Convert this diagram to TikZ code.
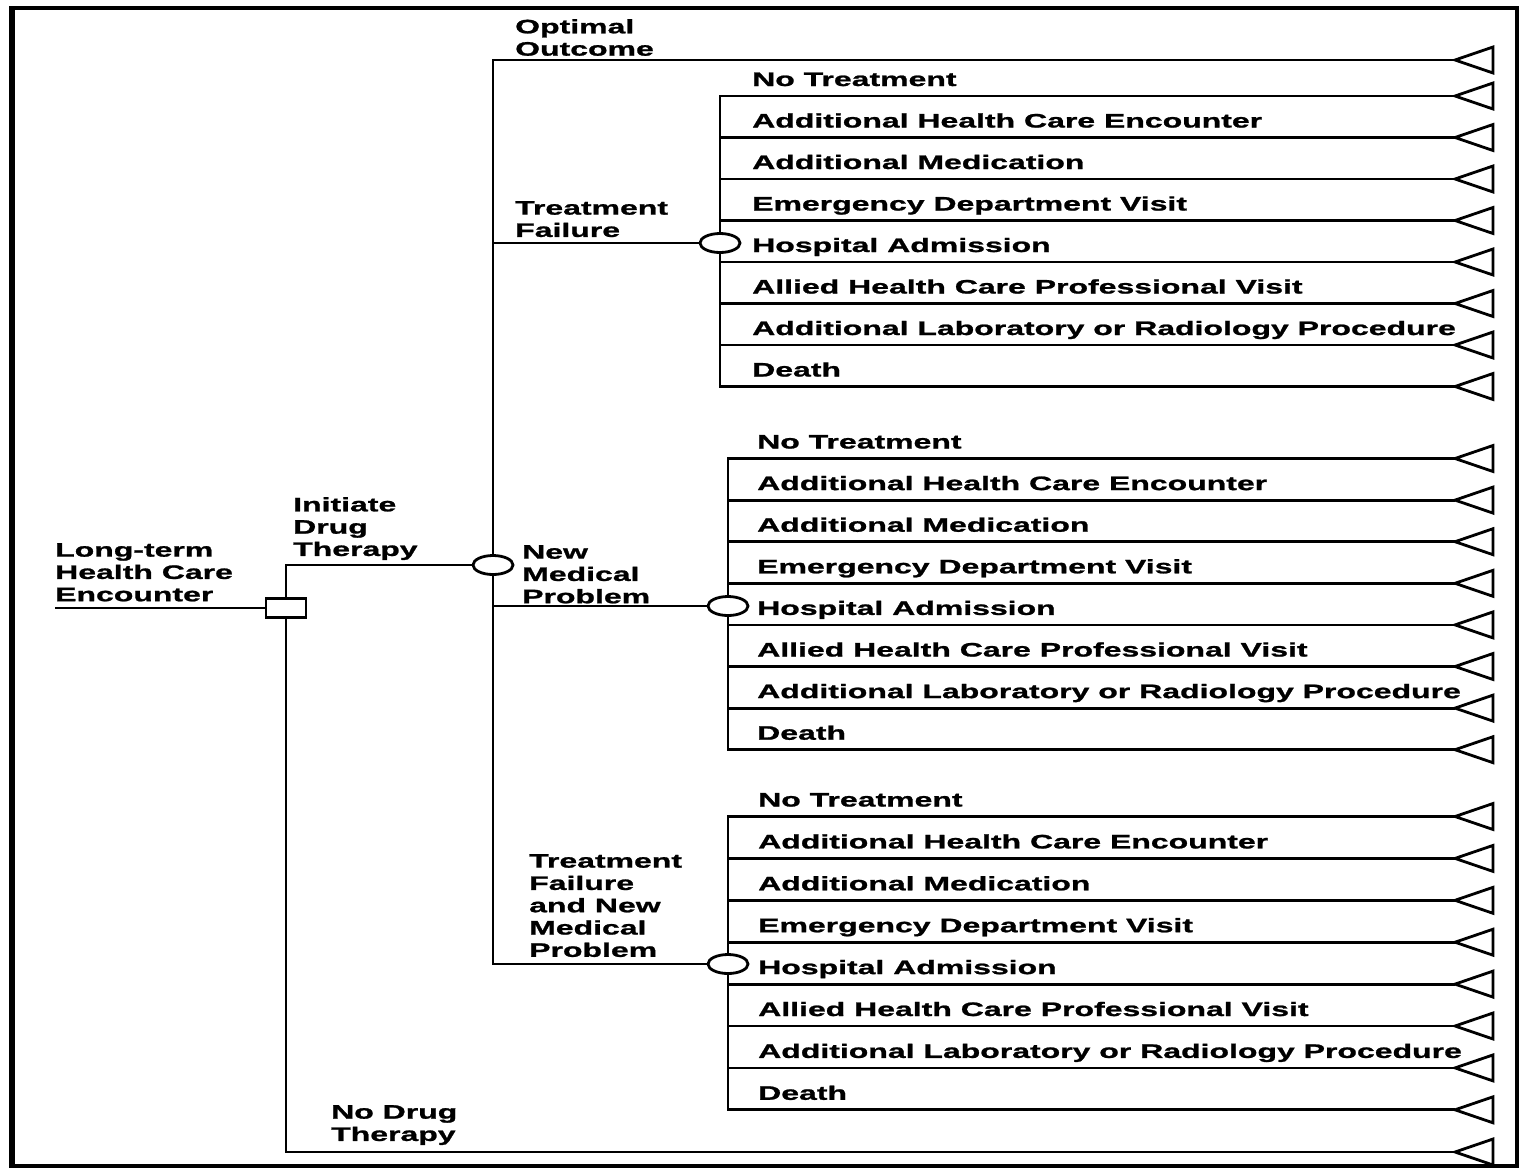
\documentclass[tikz,border=0pt]{standalone}
\usepackage{fontspec}
\setmainfont{Liberation Sans}[FakeStretch=1.64, BoldFeatures={FakeBold=1.2}]
\usetikzlibrary{shapes.geometric}

\begin{document}
\begin{tikzpicture}[x=1pt,y=-1pt,
  wire/.style={line width=2.8pt},
  decision/.style={draw, line width=2.8pt, fill=white, rectangle,
    minimum width=40pt, minimum height=19pt, inner sep=0pt},
  chance/.style={draw, line width=2.8pt, fill=white, ellipse,
    minimum width=40pt, minimum height=19pt, inner sep=0pt},
  lbl/.style={font=\bfseries\fontsize{19.5}{22}\selectfont, inner sep=0pt, anchor=base west},
  mlbl/.style={font=\bfseries\fontsize{19.5}{22.3}\selectfont, inner sep=0pt,
    anchor=north west, align=left},
  terminal/.style={line width=2.8pt, line join=miter}
]
\useasboundingbox (0,0) rectangle (1522,1173);
\fill[white] (0,0) rectangle (1522,1173);

% outer frame
\draw[line width=4.5pt] (12,8) rectangle (1517,1166);
\draw[line width=6.5pt] (12,6) -- (12,1168);

% root decision
\coordinate (start) at (55,608);
\node[decision] (dec) at (286,608) {};
\node[chance] (c0) at (493,565) {};
\draw[wire] (start) -- (dec);
\draw[wire] (dec) |- (c0);

% no drug therapy branch
\coordinate (tN) at (1455,1152);
\draw[wire] (dec) |- (tN);
\draw[terminal] (tN) -- ++(38,-13) -- ++(0,26) -- cycle;

% optimal outcome branch
\coordinate (tO) at (1455,60);
\draw[wire] (c0) |- (tO);
\draw[terminal] (tO) -- ++(38,-13) -- ++(0,26) -- cycle;

% branch labels
\node[mlbl] (lStart) at (55,543) {Long-term\\Health Care\\Encounter};
\node[mlbl] (lInit) at (293,497) {Initiate\\Drug\\Therapy};
\node[mlbl] (lNone) at (331,1105) {No Drug\\Therapy};
\node[mlbl] (lOpt) at (515,19) {Optimal\\Outcome};
\node[mlbl] (lTF) at (515,201) {Treatment\\Failure};
\node[mlbl] (lNMP) at (522,545) {New\\Medical\\Problem};
\node[mlbl] (lBoth) at (529,854) {Treatment\\Failure\\and New\\Medical\\Problem};

% outcome groups
\foreach \g/\cx/\cy/\ya/\dy/\lx in {1/720/243/96/41.5/752, 2/728/606/458.5/41.6/757, 3/728/964/816.5/41.9/758}{
  \node[chance] (c\g) at (\cx,\cy) {};
  \draw[wire] (c0) |- (c\g);
  \foreach \txt [count=\k from 0] in {No Treatment, Additional Health Care Encounter,
      Additional Medication, Emergency Department Visit, Hospital Admission,
      Allied Health Care Professional Visit, Additional Laboratory or Radiology Procedure, Death}{
    \pgfmathsetmacro\yy{\ya+\k*\dy}
    \coordinate (t\g-\k) at (1455,\yy);
    \draw[wire] (c\g) |- (t\g-\k);
    \draw[terminal] (t\g-\k) -- ++(38,-13) -- ++(0,26) -- cycle;
    \node[lbl] (l\g-\k) at (\lx,\yy-10) {\txt};
  }
}
\end{tikzpicture}
\end{document}
